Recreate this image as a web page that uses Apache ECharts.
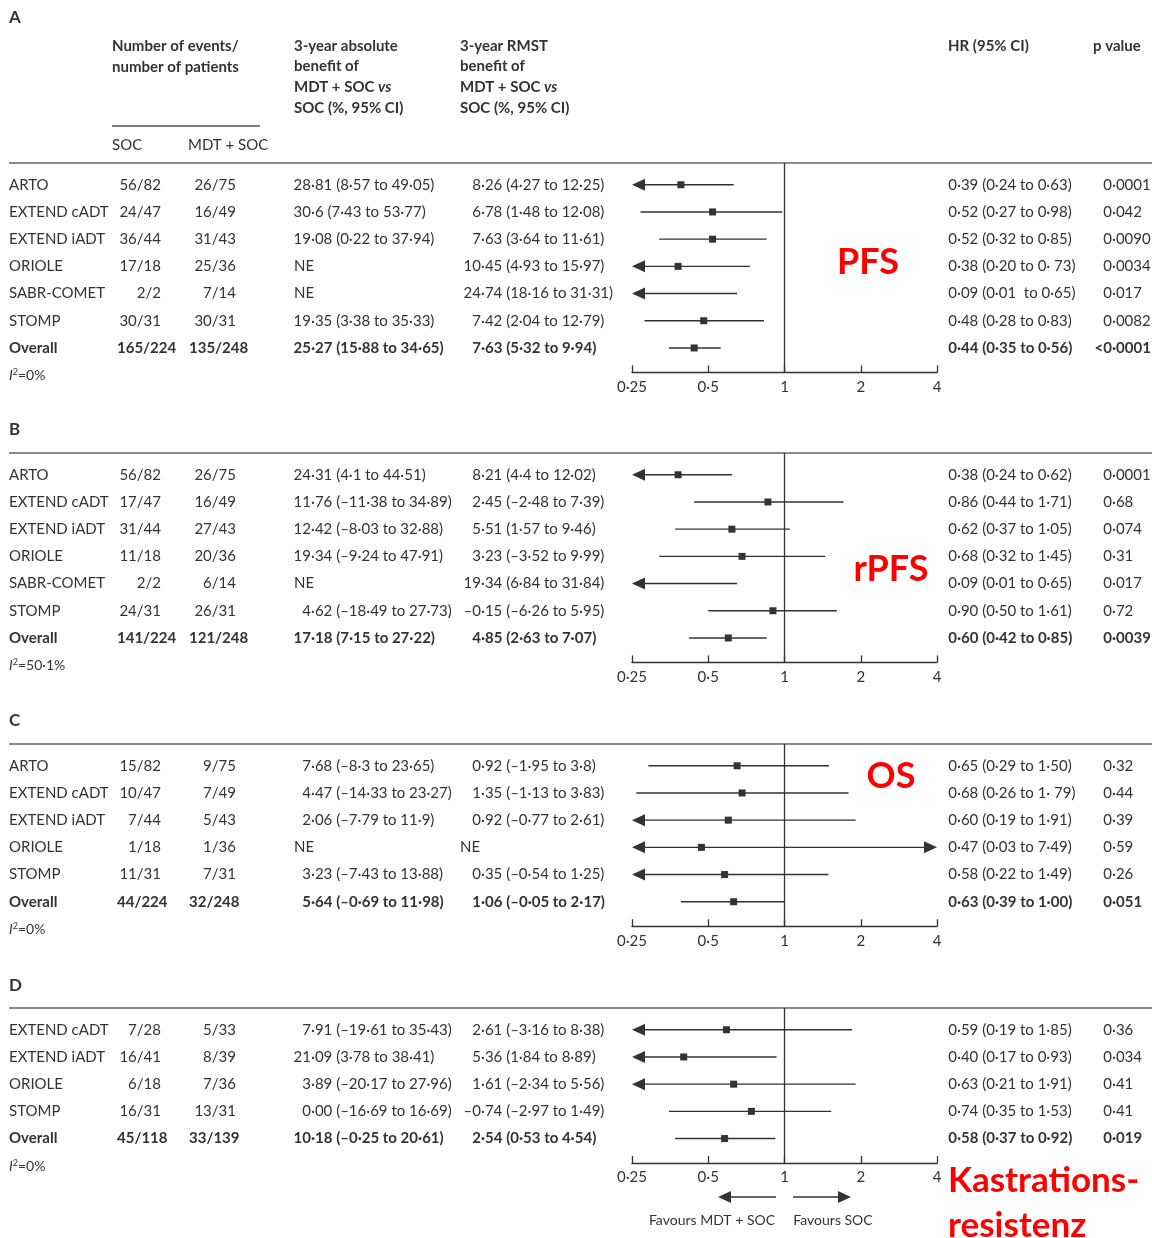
<!DOCTYPE html>
<html><head><meta charset="utf-8">
<script src="https://cdn.jsdelivr.net/npm/echarts@6/dist/echarts.min.js"></script>
<style>html,body{margin:0;padding:0;background:#fff}#c{width:1152px;height:1238px}</style>
</head><body><div id="c"></div>
<script>
// ---------- axis ----------
const hrTicks = [0.25, 0.5, 1, 2, 4];
const tickLabels = ['0·25', '0·5', '1', '2', '4'];

// ---------- A: PFS ----------
const pfsStudies = ['ARTO', 'EXTEND cADT', 'EXTEND iADT', 'ORIOLE', 'SABR-COMET', 'STOMP', 'Overall'];
const pfsSoc = ['56/82', '24/47', '36/44', '17/18', '2/2', '30/31', '165/224'];
const pfsMdt = ['26/75', '16/49', '31/43', '25/36', '7/14', '30/31', '135/248'];
const pfsAbs = ['28·81 (8·57 to 49·05)', '30·6 (7·43 to 53·77)', '19·08 (0·22 to 37·94)', 'NE', 'NE', '19·35 (3·38 to 35·33)', '25·27 (15·88 to 34·65)'];
const pfsRmst = ['8·26 (4·27 to 12·25)', '6·78 (1·48 to 12·08)', '7·63 (3·64 to 11·61)', '10·45 (4·93 to 15·97)', '24·74 (18·16 to 31·31)', '7·42 (2·04 to 12·79)', '7·63 (5·32 to 9·94)'];
const pfsHr = [0.39, 0.52, 0.52, 0.38, 0.09, 0.48, 0.44];
const pfsLo = [0.24, 0.27, 0.32, 0.20, 0.01, 0.28, 0.35];
const pfsHi = [0.63, 0.98, 0.85, 0.73, 0.65, 0.83, 0.56];
const pfsHrText = ['0·39 (0·24 to 0·63)', '0·52 (0·27 to 0·98)', '0·52 (0·32 to 0·85)', '0·38 (0·20 to 0· 73)', '0·09 (0·01  to 0·65)', '0·48 (0·28 to 0·83)', '0·44 (0·35 to 0·56)'];
const pfsP = ['0·0001', '0·042', '0·0090', '0·0034', '0·017', '0·0082', '<0·0001'];
const pfsI2 = '0%';

// ---------- B: rPFS ----------
const rpfsStudies = ['ARTO', 'EXTEND cADT', 'EXTEND iADT', 'ORIOLE', 'SABR-COMET', 'STOMP', 'Overall'];
const rpfsSoc = ['56/82', '17/47', '31/44', '11/18', '2/2', '24/31', '141/224'];
const rpfsMdt = ['26/75', '16/49', '27/43', '20/36', '6/14', '26/31', '121/248'];
const rpfsAbs = ['24·31 (4·1 to 44·51)', '11·76 (–11·38 to 34·89)', '12·42 (–8·03 to 32·88)', '19·34 (–9·24 to 47·91)', 'NE', '4·62 (–18·49 to 27·73)', '17·18 (7·15 to 27·22)'];
const rpfsRmst = ['8·21 (4·4 to 12·02)', '2·45 (–2·48 to 7·39)', '5·51 (1·57 to 9·46)', '3·23 (–3·52 to 9·99)', '19·34 (6·84 to 31·84)', '–0·15 (–6·26 to 5·95)', '4·85 (2·63 to 7·07)'];
const rpfsHr = [0.38, 0.86, 0.62, 0.68, 0.09, 0.90, 0.60];
const rpfsLo = [0.24, 0.44, 0.37, 0.32, 0.01, 0.50, 0.42];
const rpfsHi = [0.62, 1.71, 1.05, 1.45, 0.65, 1.61, 0.85];
const rpfsHrText = ['0·38 (0·24 to 0·62)', '0·86 (0·44 to 1·71)', '0·62 (0·37 to 1·05)', '0·68 (0·32 to 1·45)', '0·09 (0·01 to 0·65)', '0·90 (0·50 to 1·61)', '0·60 (0·42 to 0·85)'];
const rpfsP = ['0·0001', '0·68', '0·074', '0·31', '0·017', '0·72', '0·0039'];
const rpfsI2 = '50·1%';

// ---------- C: OS ----------
const osStudies = ['ARTO', 'EXTEND cADT', 'EXTEND iADT', 'ORIOLE', 'STOMP', 'Overall'];
const osSoc = ['15/82', '10/47', '7/44', '1/18', '11/31', '44/224'];
const osMdt = ['9/75', '7/49', '5/43', '1/36', '7/31', '32/248'];
const osAbs = ['7·68 (–8·3 to 23·65)', '4·47 (–14·33 to 23·27)', '2·06 (–7·79 to 11·9)', 'NE', '3·23 (–7·43 to 13·88)', '5·64 (–0·69 to 11·98)'];
const osRmst = ['0·92 (–1·95 to 3·8)', '1·35 (–1·13 to 3·83)', '0·92 (–0·77 to 2·61)', 'NE', '0·35 (–0·54 to 1·25)', '1·06 (–0·05 to 2·17)'];
const osHr = [0.65, 0.68, 0.60, 0.47, 0.58, 0.63];
const osLo = [0.29, 0.26, 0.19, 0.03, 0.22, 0.39];
const osHi = [1.50, 1.79, 1.91, 7.49, 1.49, 1.00];
const osHrText = ['0·65 (0·29 to 1·50)', '0·68 (0·26 to 1· 79)', '0·60 (0·19 to 1·91)', '0·47 (0·03 to 7·49)', '0·58 (0·22 to 1·49)', '0·63 (0·39 to 1·00)'];
const osP = ['0·32', '0·44', '0·39', '0·59', '0·26', '0·051'];
const osI2 = '0%';

// ---------- D: castration resistance ----------
const crStudies = ['EXTEND cADT', 'EXTEND iADT', 'ORIOLE', 'STOMP', 'Overall'];
const crSoc = ['7/28', '16/41', '6/18', '16/31', '45/118'];
const crMdt = ['5/33', '8/39', '7/36', '13/31', '33/139'];
const crAbs = ['7·91 (–19·61 to 35·43)', '21·09 (3·78 to 38·41)', '3·89 (–20·17 to 27·96)', '0·00 (–16·69 to 16·69)', '10·18 (–0·25 to 20·61)'];
const crRmst = ['2·61 (–3·16 to 8·38)', '5·36 (1·84 to 8·89)', '1·61 (–2·34 to 5·56)', '–0·74 (–2·97 to 1·49)', '2·54 (0·53 to 4·54)'];
const crHr = [0.59, 0.40, 0.63, 0.74, 0.58];
const crLo = [0.19, 0.17, 0.21, 0.35, 0.37];
const crHi = [1.85, 0.93, 1.91, 1.53, 0.92];
const crHrText = ['0·59 (0·19 to 1·85)', '0·40 (0·17 to 0·93)', '0·63 (0·21 to 1·91)', '0·74 (0·35 to 1·53)', '0·58 (0·37 to 0·92)'];
const crP = ['0·36', '0·034', '0·41', '0·41', '0·019'];
const crI2 = '0%';

// ---------- layout ----------
const panels = [
  {letter: 'A', top: 163, letterY: 18, studies: pfsStudies, soc: pfsSoc, mdt: pfsMdt, abs: pfsAbs, rmst: pfsRmst, hr: pfsHr, lo: pfsLo, hi: pfsHi, hrText: pfsHrText, p: pfsP, i2: pfsI2},
  {letter: 'B', top: 453, letterY: 430, studies: rpfsStudies, soc: rpfsSoc, mdt: rpfsMdt, abs: rpfsAbs, rmst: rpfsRmst, hr: rpfsHr, lo: rpfsLo, hi: rpfsHi, hrText: rpfsHrText, p: rpfsP, i2: rpfsI2},
  {letter: 'C', top: 744, letterY: 721, studies: osStudies, soc: osSoc, mdt: osMdt, abs: osAbs, rmst: osRmst, hr: osHr, lo: osLo, hi: osHi, hrText: osHrText, p: osP, i2: osI2},
  {letter: 'D', top: 1008, letterY: 986, studies: crStudies, soc: crSoc, mdt: crMdt, abs: crAbs, rmst: crRmst, hr: crHr, lo: crLo, hi: crHi, hrText: crHrText, p: crP, i2: crI2}
];
const ROW = 27.2, PAD_TOP = 0.8, PAD_BOT = 0.9;
const AX_MIN = hrTicks[0], AX_MAX = hrTicks[hrTicks.length - 1];
const FONT = 'Lato, "Open Sans", sans-serif';
const TXT = '#333';
const FS = 15;

function labelFor(v) {
  for (let i = 0; i < hrTicks.length; i++) if (Math.abs(v - hrTicks[i]) < 1e-6) return tickLabels[i];
  return '';
}

function renderItem(params, api) {
  const lo = api.value(0), hi = api.value(1), hr = api.value(2), row = api.value(3);
  const loC = Math.max(lo, AX_MIN), hiC = Math.min(hi, AX_MAX);
  const a = api.coord([loC, row]), b = api.coord([hiC, row]);
  const col = '#333';
  const children = [{type: 'line', shape: {x1: a[0] + (lo < AX_MIN ? 6 : 0), y1: a[1], x2: b[0] - (hi > AX_MAX ? 6 : 0), y2: b[1]}, style: {stroke: col, lineWidth: 1.4}}];
  if (lo < AX_MIN) children.push({type: 'polygon', shape: {points: [[a[0], a[1]], [a[0] + 13, a[1] - 6], [a[0] + 13, a[1] + 6]]}, style: {fill: col}});
  if (hi > AX_MAX) children.push({type: 'polygon', shape: {points: [[b[0], b[1]], [b[0] - 13, b[1] - 6], [b[0] - 13, b[1] + 6]]}, style: {fill: col}});
  if (hr >= AX_MIN && hr <= AX_MAX) {
    const c = api.coord([hr, row]);
    children.push({type: 'rect', shape: {x: c[0] - 3.5, y: c[1] - 3.5, width: 7, height: 7}, style: {fill: col}});
  }
  return {type: 'group', children};
}

const grids = [], xAxes = [], yAxes = [], series = [];
panels.forEach((p, i) => {
  const n = p.studies.length;
  grids.push({left: 632, width: 305, top: p.top, height: (n - 1 + PAD_TOP + PAD_BOT) * ROW});
  xAxes.push({
    gridIndex: i, type: 'log', logBase: 2, min: AX_MIN, max: AX_MAX, position: 'bottom',
    axisLine: {show: true, onZero: false, lineStyle: {color: '#333', width: 1.3}},
    axisTick: {show: true, inside: true, length: 7, lineStyle: {color: '#333', width: 1.3}},
    splitLine: {show: false}, minorTick: {show: false},
    axisLabel: {color: TXT, fontSize: 15, fontFamily: FONT, margin: 7, formatter: labelFor, showMinLabel: true, showMaxLabel: true}
  });
  yAxes.push({gridIndex: i, type: 'value', inverse: true, min: -PAD_TOP, max: n - 1 + PAD_BOT, show: false});
  series.push({
    type: 'custom', xAxisIndex: i, yAxisIndex: i, clip: false, silent: true,
    renderItem: renderItem,
    data: p.hr.map((h, k) => [p.lo[k], p.hi[k], h, k]),
    encode: {x: [0, 1, 2], y: 3},
    markLine: {silent: true, symbol: 'none', label: {show: false}, animation: false,
      lineStyle: {color: '#333', width: 1.3, type: 'solid'}, data: [{xAxis: 1}]}
  });
});

const chart = echarts.init(document.getElementById('c'));
chart.setOption({
  backgroundColor: '#fff', animation: false,
  grid: grids, xAxis: xAxes, yAxis: yAxes, series: series
});

// ---------- text table ----------
const els = [];
function txt(x, y, text, opt) {
  opt = opt || {};
  const st = {
    text: text, x: 0, y: 0, fill: opt.fill || TXT,
    fontSize: opt.size || FS, fontFamily: FONT, fontWeight: opt.bold ? 'bold' : 'normal',
    fontStyle: opt.italic ? 'italic' : 'normal',
    textAlign: opt.align || 'left', align: opt.align || 'left',
    textVerticalAlign: 'middle', verticalAlign: 'middle'
  };
  if (opt.rich) st.rich = opt.rich;
  els.push({type: 'text', x: x, y: y, silent: true, style: st});
}
function decimalText(anchor, leftX, y, text, bold) {
  const k = text.indexOf('·');
  if (k < 0) { txt(leftX, y, text, {bold}); return; }
  txt(anchor, y, text.slice(0, k), {bold, align: 'right'});
  txt(anchor, y, text.slice(k), {bold, align: 'left'});
}
function line(x1, y1, x2, y2, w, c) {
  els.push({type: 'line', silent: true, shape: {x1, y1, x2, y2}, style: {stroke: c || '#555', lineWidth: w || 1.5}});
}
function tri(points) {
  els.push({type: 'polygon', silent: true, shape: {points}, style: {fill: '#333'}});
}

const COL = {name: 9, socR: 161, socL: 117, mdtR: 236, mdtL: 189, absDec: 311, absL: 294, rmstDec: 481, rmstL: 460, hrDec: 957, hrL: 948, pDec: 1112, pL: 1103};

// header of panel A
const HB = {bold: true};
txt(112, 46, 'Number of events/', HB);
txt(112, 67, 'number of patients', HB);
txt(294, 46, '3-year absolute', HB);
txt(294, 66, 'benefit of', HB);
const richHead = {
  n: {fontSize: FS, fontFamily: FONT, fontWeight: 'bold', fill: TXT},
  i: {fontSize: FS, fontFamily: FONT, fontWeight: 'bold', fontStyle: 'italic', fill: TXT}
};
txt(294, 87, '{n|MDT + SOC }{i|vs}', {rich: richHead});
txt(294, 108, 'SOC (%, 95% CI)', HB);
txt(460, 46, '3-year RMST', HB);
txt(460, 66, 'benefit of', HB);
txt(460, 87, '{n|MDT + SOC }{i|vs}', {rich: richHead});
txt(460, 108, 'SOC (%, 95% CI)', HB);
txt(948, 46, 'HR (95% CI)', HB);
txt(1093, 46, 'p value', HB);
line(112, 126, 260, 126, 1.5);
txt(112, 145, 'SOC');
txt(188, 145, 'MDT + SOC');

const richI2 = {
  i: {fontSize: 14, fontFamily: FONT, fontStyle: 'italic', fill: TXT},
  s: {fontSize: 9, fontFamily: FONT, fill: TXT, verticalAlign: 'top', padding: [0, 0, 7, 0]},
  n: {fontSize: 14, fontFamily: FONT, fill: TXT}
};

panels.forEach((p, i) => {
  const n = p.studies.length;
  const yOf = k => chart.convertToPixel({gridIndex: i}, [1, k])[1];
  const topY = yOf(-PAD_TOP);
  txt(9, p.letterY, p.letter, {bold: true, size: 17});
  line(9, topY, 1152, topY, 1.6, '#666');
  for (let k = 0; k < n; k++) {
    const y = yOf(k);
    const b = p.studies[k] === 'Overall';
    txt(COL.name, y, p.studies[k], {bold: b});
    if (b) {
      txt(COL.socL, y, p.soc[k], {bold: b});
      txt(COL.mdtL, y, p.mdt[k], {bold: b});
    } else {
      txt(COL.socR, y, p.soc[k], {align: 'right'});
      txt(COL.mdtR, y, p.mdt[k], {align: 'right'});
    }
    decimalText(COL.absDec, COL.absL, y, p.abs[k], b);
    decimalText(COL.rmstDec, COL.rmstL, y, p.rmst[k], b);
    decimalText(COL.hrDec, COL.hrL, y, p.hrText[k], b);
    decimalText(COL.pDec, COL.pL, y, p.p[k], b);
  }
  txt(9, yOf(n - 1) + 28, '{i|I}{s|2}{n|=' + p.i2 + '}', {rich: richI2});
});

// outcome labels
const RED = {fill: '#ff0000', bold: true, size: 36};
txt(868, 262, 'PFS', Object.assign({align: 'center'}, RED));
txt(891, 569, 'rPFS', Object.assign({align: 'center'}, RED));
txt(891, 776, 'OS', Object.assign({align: 'center'}, RED));
txt(948, 1181, 'Kastrations-', Object.assign({}, RED, {size: 35}));
txt(948, 1226, 'resistenz', Object.assign({}, RED, {size: 35}));

// favours arrows
line(730, 1197, 776, 1197, 1.4, '#333');
tri([[718, 1197], [731, 1191], [731, 1203]]);
line(793, 1197, 839, 1197, 1.4, '#333');
tri([[851, 1197], [838, 1191], [838, 1203]]);
txt(712, 1220, 'Favours MDT + SOC', {align: 'center', size: 14});
txt(833, 1220, 'Favours SOC', {align: 'center', size: 14});

chart.setOption({graphic: {elements: els}});
</script>
</body></html>
